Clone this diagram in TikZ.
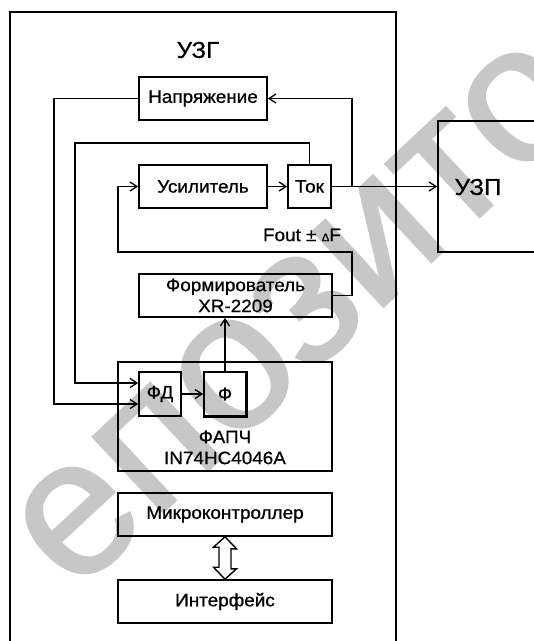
\documentclass[tikz,border=0pt]{standalone}
\usepackage{fontspec}
\setmainfont[FakeStretch=1.05,FakeBold=0.8]{Liberation Sans}
\newfontfamily\wmfont[FakeBold=1.2]{Liberation Sans}
\usetikzlibrary{arrows.meta,calc}
\begin{document}
\begin{tikzpicture}[x=1pt,y=-1pt,
  box/.style={draw, line width=1.6pt, inner sep=0pt, align=center, font=\fontsize{18}{21}\selectfont},
  lbl/.style={inner sep=0pt, align=center, font=\fontsize{18}{21}\selectfont},
  big/.style={inner sep=0pt, font=\fontsize{23}{26}\selectfont},
  conn/.style={line width=1.4pt},
  arr/.style={conn, -{Straight Barb[length=7pt,width=9pt,line width=1.3pt]}},
  dbl/.style={line width=1.4pt, fill=white},
  wm/.style={text=black!22, inner sep=0pt, font=\wmfont\fontsize{195}{195}\selectfont}]
\useasboundingbox (0,0) rectangle (534,641);
\clip (0,0) rectangle (534,641);
\fill[white] (0,0) rectangle (534,641);
% watermark
\node[wm, rotate=43] (wm) at (300,314) {епозито};
% outer block
\draw[line width=1.6pt] (10,660) -- (10,12) -- (396,12) -- (396,660);
\node[big] (uzg) at (198,50) {УЗГ};
% boxes
\node[box, minimum width=128, minimum height=43] (nap) at (203,98.5) {Напряжение};
\node[box, minimum width=128, minimum height=43] (us) at (203,186.5) {Усилитель};
\node[box, minimum width=43, minimum height=43] (tok) at (309.5,186.5) {Ток};
\node[box, minimum width=130, minimum height=131] (uzp) at (503,186.5) {};
\node[big] (uzpt) at (478,187) {УЗП};
\node[box, minimum width=193, minimum height=43] (form) at (235.5,295.5) {Формирователь\\XR-2209};
\node[box, minimum width=214, minimum height=109] (fapch) at (225,416.5) {};
\node[lbl] (fapcht) at (225,447.5) {ФАПЧ\\IN74HC4046A};
\node[box, minimum width=42, minimum height=44] (fd) at (160,394) {ФД};
\node[box, minimum width=42, minimum height=44] (f) at (225,394) {Ф};
\draw[line width=2.8pt] (f.north east) -- (f.south east) -- (f.south west);
\node[box, minimum width=214, minimum height=43] (mk) at (225,514.5) {Микроконтроллер};
\node[box, minimum width=214, minimum height=43] (intf) at (225,601.5) {Интерфейс};
\node[lbl] (fout) at (302,235) {Fout ± {\fontsize{11}{11}\selectfont Δ}F};
% connectors
\coordinate (br) at (352,186.5);
\draw[arr] (nap.west) -- (54,98.5) |- ($(fd.west)+(0,10)$);
\draw[arr] (tok.north) -- (309.5,143) -- (75,143) |- ($(fd.west)+(0,-11)$);
\draw[arr] (tok.east) -- (uzp.west);
\draw[arr] (br) |- (nap.east);
\draw[arr] (us.east) -- (tok.west);
\draw[arr] (form.east) -| (352,252) -- (118,252) |- (us.west);
\draw[arr] (fd.east) -- (f.west);
\draw[arr] (f.north) -- (f.north |- form.south);
\draw[dbl] (mk.south) -- ++(11.5,12) -- ++(-5.5,0) -- ++(0,20) -- ++(5.5,0) -- (intf.north)
  -- ++(-11.5,-12) -- ++(5.5,0) -- ++(0,-20) -- ++(-5.5,0) -- cycle;
\end{tikzpicture}
\end{document}
